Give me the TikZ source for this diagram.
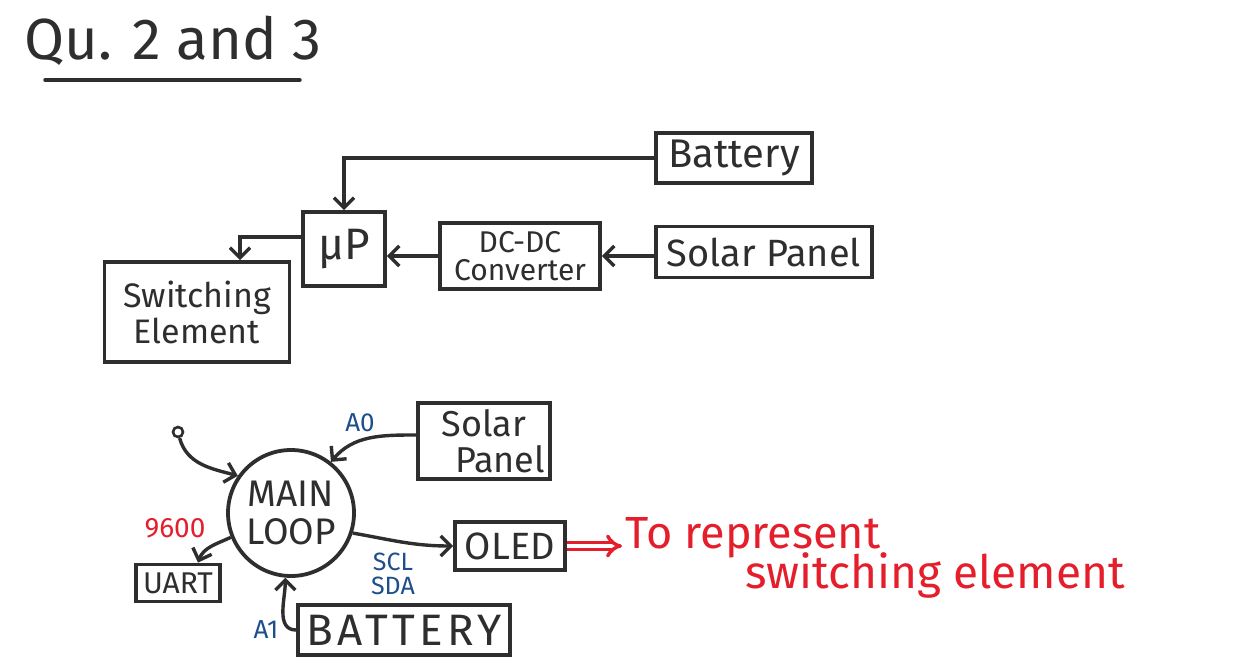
\documentclass[tikz,border=0pt]{standalone}
\usepackage{fontspec}
\setmainfont{Fira Sans}
\usetikzlibrary{arrows.meta}
\definecolor{ink}{HTML}{2E2E2E}
\definecolor{pinblue}{HTML}{1F4E8C}
\definecolor{notered}{HTML}{E41E2B}
\tikzset{
  box/.style={draw=ink, line width=3.8pt, inner sep=2pt, align=center, text=ink},
  arrb/.style={draw=ink, line width=3.4pt, -{Straight Barb[length=10pt,width=20pt]}},
  pin/.style={text=pinblue, font=\fontsize{26}{27}\selectfont, align=center},
}
\begin{document}
\begin{tikzpicture}[x=1pt,y=-1pt]
\useasboundingbox[fill=white] (0,0) rectangle (1240,671);
% title
\node[anchor=base west, inner sep=0pt, text=ink, font=\fontsize{58}{60}\selectfont] (title) at (24,60) {Qu. 2 and 3};
\draw[ink, line width=3.4pt, line cap=round] (45,80) -- (300,80);
% top diagram
\node[box, minimum width=156, minimum height=50, font=\fontsize{40}{42}\selectfont] (bat1) at (734,158) {Battery};
\node[box, minimum width=216, minimum height=51, font=\fontsize{38}{40}\selectfont] (sol1) at (764,252) {Solar Panel};
\node[box, minimum width=160, minimum height=66, inner sep=0pt, font=\fontsize{30}{28}\selectfont] (dcdc) at (520,256) {DC-DC\\Converter};
\node[box, minimum width=82, minimum height=74, font=\fontsize{44}{46}\selectfont] (up) at (344,249) {μP};
\node[box, minimum width=185, minimum height=100, font=\fontsize{34}{36}\selectfont] (sw) at (197,312) {Switching\\Element};
\draw[arrb] (bat1.west) -| (up.north);
\draw[arrb] (dcdc.west) -- (dcdc.west -| up.east);
\draw[arrb] (sol1.west |- dcdc.west) -- (dcdc.east);
\draw[arrb] ([yshift=12pt]up.west) -| ([xshift=43pt]sw.north);
% bottom diagram
\node[draw=ink, line width=3.8pt, circle, minimum size=126, inner sep=0pt, align=center, text=ink, font=\fontsize{37}{38}\selectfont] (ml) at (291,513) {MAIN\\LOOP};
\node[draw=ink, line width=2.6pt, circle, minimum size=10, inner sep=0pt] (start) at (178,432) {};
\node[box, minimum width=132, minimum height=76, inner sep=0pt, font=\fontsize{36}{36}\selectfont] (sol2) at (484,441) {Solar\\\hspace*{0.9em}Panel};
\node[box, minimum width=110, minimum height=48, inner sep=0pt, font=\fontsize{38}{40}\selectfont] (oled) at (510,546) {OLED};
\node[box, minimum width=84, minimum height=37, inner sep=0pt, font=\fontsize{30}{30}\selectfont] (uart) at (178,583) {UART};
\node[box, minimum width=212, minimum height=50, inner sep=0pt, font=\fontsize{44}{46}\addfontfeatures{LetterSpace=10}\selectfont] (bat2) at (404,630) {BATTERY};
\draw[arrb] (start) to[out=-75, in=165] (ml.145);
\draw[arrb] ([yshift=6pt]sol2.west) to[out=180, in=50] (ml.52);
\draw[arrb] (ml.-18) to[out=-10, in=180] (oled.west);
\draw[arrb] (ml.202) to[out=205, in=70] ([xshift=20pt]uart.north);
\draw[arrb] (bat2.west) to[out=180, in=-90] (ml.265);
\node[pin] (a0) at (360,423) {A0};
\node[pin, font=\fontsize{25}{24}\selectfont] (scl) at (393,574) {SCL\\SDA};
\node[pin] (a1) at (266,630) {A1};
\node[text=notered, font=\fontsize{28}{30}\selectfont] (baud) at (175,528) {9600};
% note
\node[anchor=west, text=notered, font=\fontsize{45}{46}\selectfont] (rep) at (622,538) {To represent};
\node[anchor=west, text=notered, font=\fontsize{46}{48}\selectfont] (swel) at (742,575) {switching element};
\draw[notered, line width=3.4pt, double=white, double distance=4pt, -{Implies[length=12pt]}] (oled.east) -- (rep.west |- oled.east);
\end{tikzpicture}
\end{document}
